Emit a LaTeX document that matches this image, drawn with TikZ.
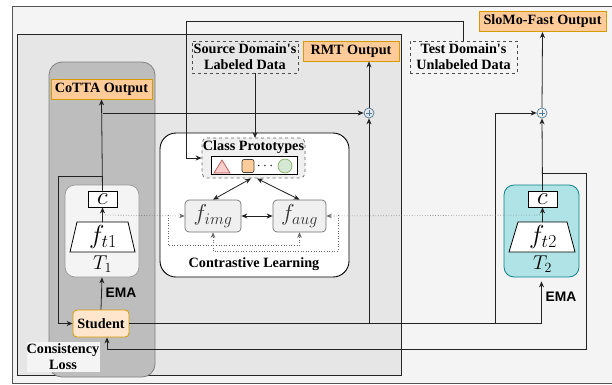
\RequirePackage{fix-cm}
\documentclass[tikz,border=0pt]{standalone}
\usepackage[no-math]{fontspec}
\setmainfont{Liberation Serif}[Ligatures=TeXOff]
\newfontfamily\arialfont{Liberation Sans}
\usetikzlibrary{arrows.meta,shapes.geometric}
\definecolor{outerbg}{HTML}{F4F4F4}
\definecolor{outerln}{HTML}{555555}
\definecolor{innerbg}{HTML}{E6E6E6}
\definecolor{cottabg}{HTML}{BDBDBD}
\definecolor{cottaln}{HTML}{808080}
\definecolor{orfill}{HTML}{FFCC99}
\definecolor{orline}{HTML}{D79B00}
\definecolor{stfill}{HTML}{FFE6CC}
\definecolor{tealfill}{HTML}{B0E3E6}
\definecolor{tealln}{HTML}{0E8088}
\definecolor{plusln}{HTML}{4D7A99}
\definecolor{redfill}{HTML}{F8CECC}
\definecolor{redln}{HTML}{B85450}
\definecolor{grfill}{HTML}{D5E8D4}
\definecolor{grln}{HTML}{82B366}
\definecolor{fgray}{HTML}{F0F0F0}
\definecolor{linec}{HTML}{222222}
\begin{document}
\begin{tikzpicture}[x=1pt,y=-1pt,
  lbl/.style={font=\fontsize{14.2}{16}\selectfont\bfseries, align=center, inner sep=0pt},
  outbox/.style={lbl, draw=orline, fill=orfill, line width=0.9pt, minimum height=20pt},
  databox/.style={lbl, draw=black!70, dashed, line width=0.7pt},
  flbl/.style={font=\fontsize{26}{28}\selectfont, inner sep=0pt},
  tlbl/.style={font=\fontsize{20}{22}\selectfont, inner sep=0pt},
  cbox/.style={draw=black, fill=white, line width=0.8pt, minimum width=29pt, minimum height=16pt, inner sep=0pt, font=\fontsize{25}{25}\selectfont},
  trapline/.style={draw=black, fill=white, line width=0.8pt},
  fbox/.style={draw=black!55, fill=fgray, rounded corners=4pt, minimum height=32pt, line width=0.7pt, inner sep=0pt, font=\fontsize{23}{25}\selectfont, text=black!80},
  conn/.style={draw=linec, line width=0.8pt, -{Stealth[length=6pt,width=5pt]}},
  dconn/.style={draw=linec, line width=0.8pt, {Stealth[length=6pt,width=5pt]}-{Stealth[length=6pt,width=5pt]}},
  dotconn/.style={draw=black!60, dotted, line width=0.6pt, -{Stealth[length=5.5pt,width=4.5pt]}},
  plusnode/.style={circle, draw=plusln, line width=0.7pt, minimum size=10pt, inner sep=0pt},
  ema/.style={font=\arialfont\fontsize{13.8}{15}\selectfont\bfseries, inner sep=0pt}
]
\useasboundingbox (0,0) rectangle (612,384);
% backgrounds
\draw[fill=outerbg, draw=outerln, line width=1pt] (12,6) rectangle (660,383);
\draw[fill=innerbg, draw=black!85, line width=0.9pt] (17,34) rectangle (401,375);
\draw[fill=cottabg, draw=cottaln, line width=0.8pt, rounded corners=13pt] (49,62) rectangle (155,377);
\draw[fill=white, draw=black, line width=0.9pt, rounded corners=16pt] (160,133) rectangle (349,277);
\node[lbl] (cl) at (254,264) {Contrastive Learning};

% outputs
\node[outbox, minimum width=101pt] (cotta) at (101.5,89) {CoTTA Output};
\node[outbox, minimum width=96pt] (rmt) at (351,51) {RMT Output};
\node[outbox, minimum width=127pt] (slomo) at (542.5,21.5) {SloMo-Fast Output};

% data boxes
\node[databox, minimum width=106pt, minimum height=32pt] (src) at (245,57) {Source Domain's\\Labeled Data};
\node[databox, minimum width=107pt, minimum height=32pt] (tst) at (463.5,57) {Test Domain's\\Unlabeled Data};

% class prototypes
\node[draw=black!60, dashed, fill=fgray, rounded corners=5pt, minimum width=103pt, minimum height=40pt, line width=0.7pt] (cp) at (253.5,158) {};
\node[lbl] (cpl) at (253.5,147) {Class Prototypes};
\node[draw=black, fill=white, line width=0.8pt, minimum width=86pt, minimum height=18pt, inner sep=0pt] (cpi) at (254,165) {};
\draw[fill=redfill, draw=redln, line width=0.7pt] (214,173) -- (230,173) -- (222,160) -- cycle;
\node[draw=black!75, fill=orfill, rounded corners=2pt, minimum width=12pt, minimum height=13pt, inner sep=0pt, line width=0.7pt] (sq) at (248,166) {};
\node[inner sep=0pt, font=\fontsize{14}{14}\selectfont] (dots) at (265,166) {$\cdots$};
\node[circle, draw=grln, fill=grfill, minimum size=14pt, inner sep=0pt, line width=0.7pt] (circ) at (285,166) {};

% feature boxes
\node[fbox, minimum width=56pt] (fimg) at (213,216) {$f_{img}$};
\node[fbox, minimum width=53pt] (faug) at (299.5,216) {$f_{aug}$};

% teacher 1
\node[draw=black!40, fill=outerbg, rounded corners=10pt, minimum width=74pt, minimum height=92pt, line width=0.7pt] (T1) at (102,231) {};
\node[cbox] (c1) at (102.5,199) {$c$};
\draw[trapline] (70,252) -- (135,252) -- (128,222) -- (77,222) -- cycle;
\coordinate (tr1) at (102.5,222);
\node[flbl] (ft1) at (103,237) {$f_{t1}$};
\node[tlbl] (t1l) at (102.5,264) {$T_1$};

% teacher 2
\node[draw=tealln, fill=tealfill, rounded corners=10pt, minimum width=75pt, minimum height=92pt, line width=0.8pt] (T2) at (541.5,231) {};
\node[cbox] (c2) at (542.5,199) {$c$};
\draw[trapline] (509,252) -- (575,252) -- (567,222) -- (518,222) -- cycle;
\coordinate (tr2) at (542.5,222);
\node[flbl] (ft2) at (543,237) {$f_{t2}$};
\node[tlbl] (t2l) at (542.5,264) {$T_2$};

% student
\node[lbl, draw=orline, fill=stfill, rounded corners=4pt, minimum width=56pt, minimum height=27pt, line width=0.8pt] (stu) at (101,323.5) {Student};

% plus nodes
\node[plusnode] (plusR) at (369,113) {};
\draw[plusln, line width=0.7pt] (366,113) -- (372,113) (369,110) -- (369,116);
\node[plusnode] (plusS) at (542,113) {};
\draw[plusln, line width=0.7pt] (539,113) -- (545,113) (542,110) -- (542,116);

% labels
\node[lbl, fill=outerbg, minimum width=73pt, minimum height=30pt] (cons) at (63,357) {Consistency\\Loss};
\node[ema] (ema1) at (121,293) {EMA};
\node[ema] (ema2) at (561,297) {EMA};

% coordinates
\coordinate (j1) at (102.5,176);
\coordinate (j2) at (102.5,113);
\coordinate (l1) at (58,176);
\coordinate (bR) at (369,324);
\coordinate (bS) at (495,324);
\coordinate (k1) at (542.5,173);
\coordinate (k2) at (586,173);
\coordinate (k3) at (586,349);
\coordinate (k4) at (107,349);
\coordinate (t1) at (463.5,21);
\coordinate (t2) at (186,21);
\coordinate (d1) at (102.5,215);
\coordinate (d2) at (168,215);
\coordinate (d3) at (168,245);
\coordinate (d4) at (542.5,215);
\coordinate (d5) at (338,215);
\coordinate (d6) at (338,251);
\coordinate (s1) at (255,73);
\coordinate (s2) at (255,138);

% connectors
\draw[conn] (tr1) -- (c1.south);
\draw[conn] (c1.north) -- (cotta.south);
\draw[conn] (j1) -- (l1) |- (stu.west);
\draw[conn] (j2) -- (plusR.west);
\draw[conn] (stu.north) -- (T1.south);
\draw[conn, shorten >=4pt] (stu.east) -| (T2.south);
\draw[conn] (bR) -- (plusR.south);
\draw[conn] (bS) |- (plusS.west);
\draw[conn] (plusR.north) -- (plusR.north |- rmt.south);
\draw[conn] (tr2) -- (c2.south);
\draw[conn] (c2.north) -- (plusS.south);
\draw[conn] (plusS.north) -- (slomo.south);
\draw[conn] (k1) -- (k2) -- (k3) -- (k4) -- (k4 |- stu.south);
\draw[conn] (tst.north) -- (t1) -- (t2) |- (cp.west);
\draw[conn] (s1) -- (s2);
\draw[dconn] (251,178.5) -- (fimg.north);
\draw[dconn] (257,178.5) -- (faug.north);
\draw[dconn] (fimg.east) -- (faug.west);
\draw[dotconn] (d1) -- (fimg.west);
\draw[dotconn] (d2) -- (d3) -| (faug.south);
\draw[dotconn] (d4) -- (faug.east);
\draw[dotconn] (d5) -- (d6) -| (fimg.south);
\end{tikzpicture}
\end{document}
